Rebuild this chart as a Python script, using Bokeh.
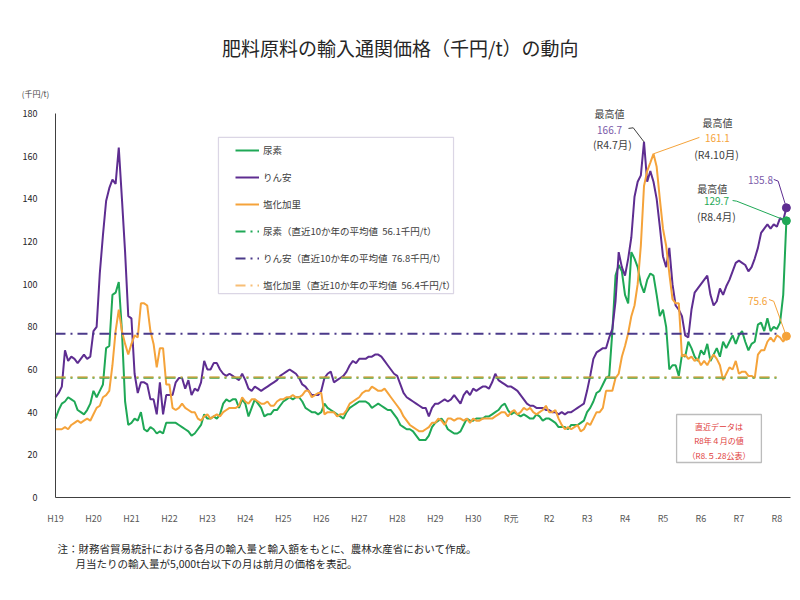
from bokeh.plotting import figure
from bokeh.models import Range1d, FixedTicker, Label, Legend, LegendItem, BoxAnnotation
from bokeh.embed import file_html
from bokeh.resources import INLINE

FONT = "Noto Sans CJK JP"

# Fiscal-year tick labels (January of each year, H19 = 2007 ... R8 = 2026)
year_labels = ["H19", "H20", "H21", "H22", "H23", "H24", "H25", "H26", "H27", "H28",
               "H29", "H30", "R元", "R2", "R3", "R4", "R5", "R6", "R7", "R8"]

# Monthly import customs prices (thousand yen / t), Jan H19 .. Apr R8
urea = [
    37, 41, 44, 45, 47, 46, 45, 41, 40, 39, 41, 44,        # H19
    50, 47, 50, 53, 70, 71, 95, 96, 101, 78, 45, 34,       # H20
    35, 37, 36, 40, 32, 31, 33, 32, 30, 31, 30, 35,        # H21
    35, 35, 35, 34, 33, 32, 31, 29, 30, 32, 34, 39,        # H22
    37, 37, 38, 37, 39, 44, 46, 45, 46, 46, 42, 46,        # H23
    44, 38, 42, 46, 44, 42, 38, 39, 39, 41, 41, 43,        # H24
    45, 46, 47, 46, 47, 47, 45, 42, 41, 40, 40, 39,        # H25
    40, 44, 42, 41, 40, 39, 38, 37, 40, 42, 43, 44,        # H26
    45, 45, 45, 44, 42, 43, 44, 43, 42, 41, 41, 39,        # H27
    37, 34, 33, 32, 32, 31, 29, 27, 27, 27, 29, 33,        # H28
    35, 36, 37, 35, 32, 31, 30, 30, 31, 34, 37, 36,        # H29
    36, 37, 37, 37, 38, 38, 39, 40, 41, 43, 44, 41,        # H30
    39, 40, 39, 38, 39, 38, 37, 37, 39, 38, 36, 37,        # R1
    37, 36, 35, 33, 33, 33, 32, 34, 34, 34, 35, 36,        # R2
    40, 42, 45, 49, 50, 53, 56, 57, 78, 104, 109, 106,     # R3
    95, 91, 115, 112, 108, 100, 96, 102, 105, 104, 95, 85, # R4
    88, 80, 60, 62, 62, 57, 67, 66, 73, 70, 66, 64,        # R5
    69, 67, 72, 64, 67, 70, 66, 73, 70, 73, 76, 72,        # R6
    76, 78, 73, 69, 72, 73, 81, 82, 78, 84, 78, 80,        # R7
    79, 82, 95, 129.7,                                     # R8
]

dap = [
    47, 49, 52, 69, 64, 66, 65, 63, 65, 67, 65, 66,
    78, 80, 105, 123, 139, 145, 149, 147, 164, 140, 115, 85,
    84, 58, 49, 54, 54, 53, 46, 46, 39, 54, 39, 48,
    48, 48, 54, 56, 56, 51, 55, 48, 51, 50, 54, 64,
    60, 60, 63, 63, 60, 58, 57, 58, 57, 56, 55, 58,
    55, 51, 50, 52, 51, 50, 51, 52, 53, 54, 55, 57,
    58, 59, 60, 59, 58, 56, 53, 52, 50, 48, 48, 48,
    50, 56, 58, 59, 54, 55, 56, 57, 59, 62, 64, 63,
    65, 65, 65, 66, 66, 67, 67, 66, 64, 62, 60, 58,
    57, 53, 49, 47, 46, 45, 44, 43, 42, 42, 38, 42,
    44, 44, 45, 46, 45, 46, 48, 46, 44, 48, 50, 48,
    51, 50, 51, 52, 52, 51, 54, 58, 55, 54, 53, 52,
    52, 51, 50, 48, 46, 44, 43, 43, 42, 42, 42, 41,
    41, 40, 40, 39, 40, 39, 40, 40, 41, 42, 43, 44,
    50, 57, 65, 68, 69, 70, 70, 75, 79, 92, 115, 108,
    104, 112, 122, 141, 148, 151, 166.7, 148, 153, 148, 140, 127,
    113, 108, 117, 100, 90, 88, 85, 76, 75, 88, 96, 98,
    100, 102, 104, 95, 90, 92, 98, 95, 99, 102, 106, 110,
    111, 110, 109, 106, 108, 112, 117, 124, 126, 128, 126, 128,
    127, 131, 130, 135.8,
]

potash = [
    32, 32, 32, 33, 32, 34, 35, 36, 35, 36, 37, 36,
    39, 42, 43, 47, 48, 50, 62, 78, 88, 78, 72, 67,
    72, 76, 75, 91, 91, 90, 78, 72, 61, 70, 70, 53,
    53, 42, 41, 42, 44, 42, 41, 40, 40, 37, 36, 38,
    39, 37, 38, 39, 38, 40, 41, 42, 42, 42, 43, 47,
    45, 44, 46, 46, 45, 44, 44, 45, 43, 43, 45, 46,
    46, 47, 47, 48, 47, 47, 48, 50, 50, 47, 48, 49,
    49, 39, 40, 40, 40, 38, 39, 39, 41, 44, 45, 46,
    47, 49, 50, 50, 52, 51, 50, 50, 51, 49, 47, 45,
    43, 41, 38, 36, 34, 33, 32, 31, 31, 32, 33, 35,
    35, 37, 36, 34, 37, 37, 36, 37, 37, 36, 37, 35,
    37, 36, 36, 37, 37, 37, 37, 38, 39, 40, 40, 38,
    40, 41, 39, 40, 42, 41, 42, 40, 39, 40, 41, 43,
    40, 40, 41, 37, 34, 32, 33, 32, 33, 34, 31, 32,
    35, 34, 37, 40, 40, 42, 50, 50, 50, 56, 58, 66,
    71, 77, 85, 90, 100, 118, 146, 153, 157, 161.1, 155, 140,
    126, 118, 105, 93, 91, 91, 66, 67, 65, 66, 64, 65,
    62, 64, 62, 65, 67, 65, 62, 55, 58, 61, 60, 64,
    58, 59, 59, 57, 57, 56, 67, 69, 69, 73, 75, 73,
    76, 75, 73, 75.6,
]

# 10-year averages
avg_urea = 56.1
avg_dap = 76.8
avg_potash = 56.4

months = list(range(len(urea)))
avg_span = [months[0], months[-4]]

GREEN = "#1fa856"
PURPLE = "#5e2d91"
ORANGE = "#f5a33a"
PURPLE_AVG = "#4b3a8a"
PURPLE_TXT = "#7a5aa8"
TEXT = "#404040"
RED = "#e03c3c"

# The frame fills the whole canvas; the value axes sit inside it at fixed locations,
# so the title and notes around the chart are ordinary in-frame annotations.
p = figure(width=800, height=600, output_backend="svg", toolbar_location=None,
           x_range=Range1d(-17.38, 235.46), y_range=Range1d(-48.28, 232.97),
           min_border_left=0, min_border_right=0, min_border_top=0, min_border_bottom=0,
           outline_line_color=None, background_fill_color="white", border_fill_color="white")
p.grid.visible = False

p.yaxis.ticker = FixedTicker(ticks=list(range(0, 181, 20)))
p.yaxis.bounds = (0, 180)
p.yaxis.fixed_location = 0
p.xaxis.ticker = FixedTicker(ticks=[12 * i for i in range(len(year_labels))])
p.xaxis.major_label_overrides = {12 * i: lab for i, lab in enumerate(year_labels)}
p.xaxis.bounds = (0, 232.3)
p.xaxis.fixed_location = 0
for ax in (p.xaxis, p.yaxis):
    ax.axis_line_color = "#404040"
    ax.axis_line_width = 1
    ax.major_tick_line_color = None
    ax.minor_tick_line_color = None
    ax.major_label_text_font = FONT
    ax.major_label_text_font_size = "9px"
p.yaxis.major_label_text_color = "#262626"
p.yaxis.major_label_standoff = 12
p.xaxis.major_label_text_color = "#595959"
p.xaxis.major_label_standoff = 8

# series lines
r_urea = p.line(months, urea, line_color=GREEN, line_width=2)
r_dap = p.line(months, dap, line_color=PURPLE, line_width=2)
r_potash = p.line(months, potash, line_color=ORANGE, line_width=2)

# 10-year average lines
dash = "10 5 2 5"
r_avg_urea = p.line(avg_span, [avg_urea, avg_urea], line_color=GREEN, line_width=2, line_dash=dash)
r_avg_potash = p.line(avg_span, [avg_potash, avg_potash], line_color=ORANGE, line_width=2,
                      line_dash=dash, line_alpha=0.7)
r_avg_dap = p.line(avg_span, [avg_dap, avg_dap], line_color=PURPLE_AVG, line_width=2, line_dash=dash)

# latest values
last = months[-1]
p.scatter([last], [dap[-1]], size=8, color=PURPLE)
p.scatter([last], [urea[-1]], size=8, color=GREEN)
p.scatter([last], [potash[-1]], size=8, color=ORANGE)

# legend
p.add_layout(BoxAnnotation(left=51.5, right=125.8, bottom=95.6, top=168.8,
                           fill_alpha=0, line_color="#8878a8", line_width=1.2))
legend = Legend(items=[
    LegendItem(label="尿素", renderers=[r_urea]),
    LegendItem(label="りん安", renderers=[r_dap]),
    LegendItem(label="塩化加里", renderers=[r_potash]),
    LegendItem(label=f"尿素（直近10か年の平均値  {avg_urea}千円/t）", renderers=[r_avg_urea]),
    LegendItem(label=f"りん安（直近10か年の平均値  {avg_dap}千円/t）", renderers=[r_avg_dap]),
    LegendItem(label=f"塩化加里（直近10か年の平均値  {avg_potash}千円/t）", renderers=[r_avg_potash]),
], location=(235, 307), padding=0, spacing=11, glyph_width=24, glyph_height=16,
    label_height=16, label_standoff=4, border_line_color=None, background_fill_alpha=0,
    label_text_font=FONT, label_text_font_size="9.5px", label_text_color=TEXT, margin=0)
p.add_layout(legend)


def label(x, y, text, color=TEXT, size="10px", align="center", baseline="middle"):
    p.add_layout(Label(x=x, y=y, text=text, text_color=color, text_font=FONT,
                       text_font_size=size, text_align=align, text_baseline=baseline))


# title, unit, notes
label(109.0, 211.0, "肥料原料の輸入通関価格（千円/t）の動向", color="#262626", size="19px")
label(-6.3, 189.4, "(千円/t)", color=TEXT, size="8px")
label(0.6, -24.0, "注：財務省貿易統計における各月の輸入量と輸入額をもとに、農林水産省において作成。",
      color="#262626", size="10.5px", align="left")
label(6.3, -31.0, "月当たりの輸入量が5,000t台以下の月は前月の価格を表記。",
      color="#262626", size="10.5px", align="left")

# peak / latest annotations
i_dap_max = dap.index(max(dap))
i_pot_max = potash.index(max(potash))

label(175.1, 180.0, "最高値")
label(175.1, 172.5, f"{max(dap):.1f}", color=PURPLE_TXT)
label(176.0, 165.5, "(R4.7月)", size="10.5px")
p.line([181.1, 182.6, i_dap_max], [173.0, 173.3, max(dap)], line_color=TEXT, line_width=1)

label(209.2, 175.8, "最高値")
label(209.2, 168.3, f"{max(potash):.1f}", color=ORANGE)
label(208.9, 160.8, "(R4.10月)", size="10.5px")
p.line([203.5, i_pot_max], [168.8, max(potash)], line_color=ORANGE, line_width=1)

label(222.8, 148.6, f"{dap[-1]:.1f}", color=PURPLE_TXT)
p.line([227.0, 228.4, last], [149.1, 148.3, dap[-1]], line_color=PURPLE, line_width=1)

label(207.6, 144.8, "最高値")
label(208.9, 138.8, f"{urea[-1]:.1f}", color=GREEN)
label(208.9, 131.7, "(R8.4月)", size="10.5px")
p.line([214.0, 215.3, last], [139.2, 138.9, urea[-1]], line_color=GREEN, line_width=1)

label(221.9, 92.3, f"{potash[-1]:.1f}", color=ORANGE)
p.line([225.5, 227.0, last], [92.8, 92.0, potash[-1]], line_color=ORANGE, line_width=1)

# release note box
p.add_layout(BoxAnnotation(left=196.3, right=223.1, bottom=16.4, top=38.9,
                           fill_alpha=0, line_color="#202020", line_width=1.3))
label(209.7, 33.3, "直近データは", color=RED, size="8px")
label(209.7, 26.7, "R8年４月の値", color=RED, size="8px")
label(209.7, 19.7, "（R8.５.28公表）", color=RED, size="8px")

open("out.html", "w").write(file_html(p, INLINE))
